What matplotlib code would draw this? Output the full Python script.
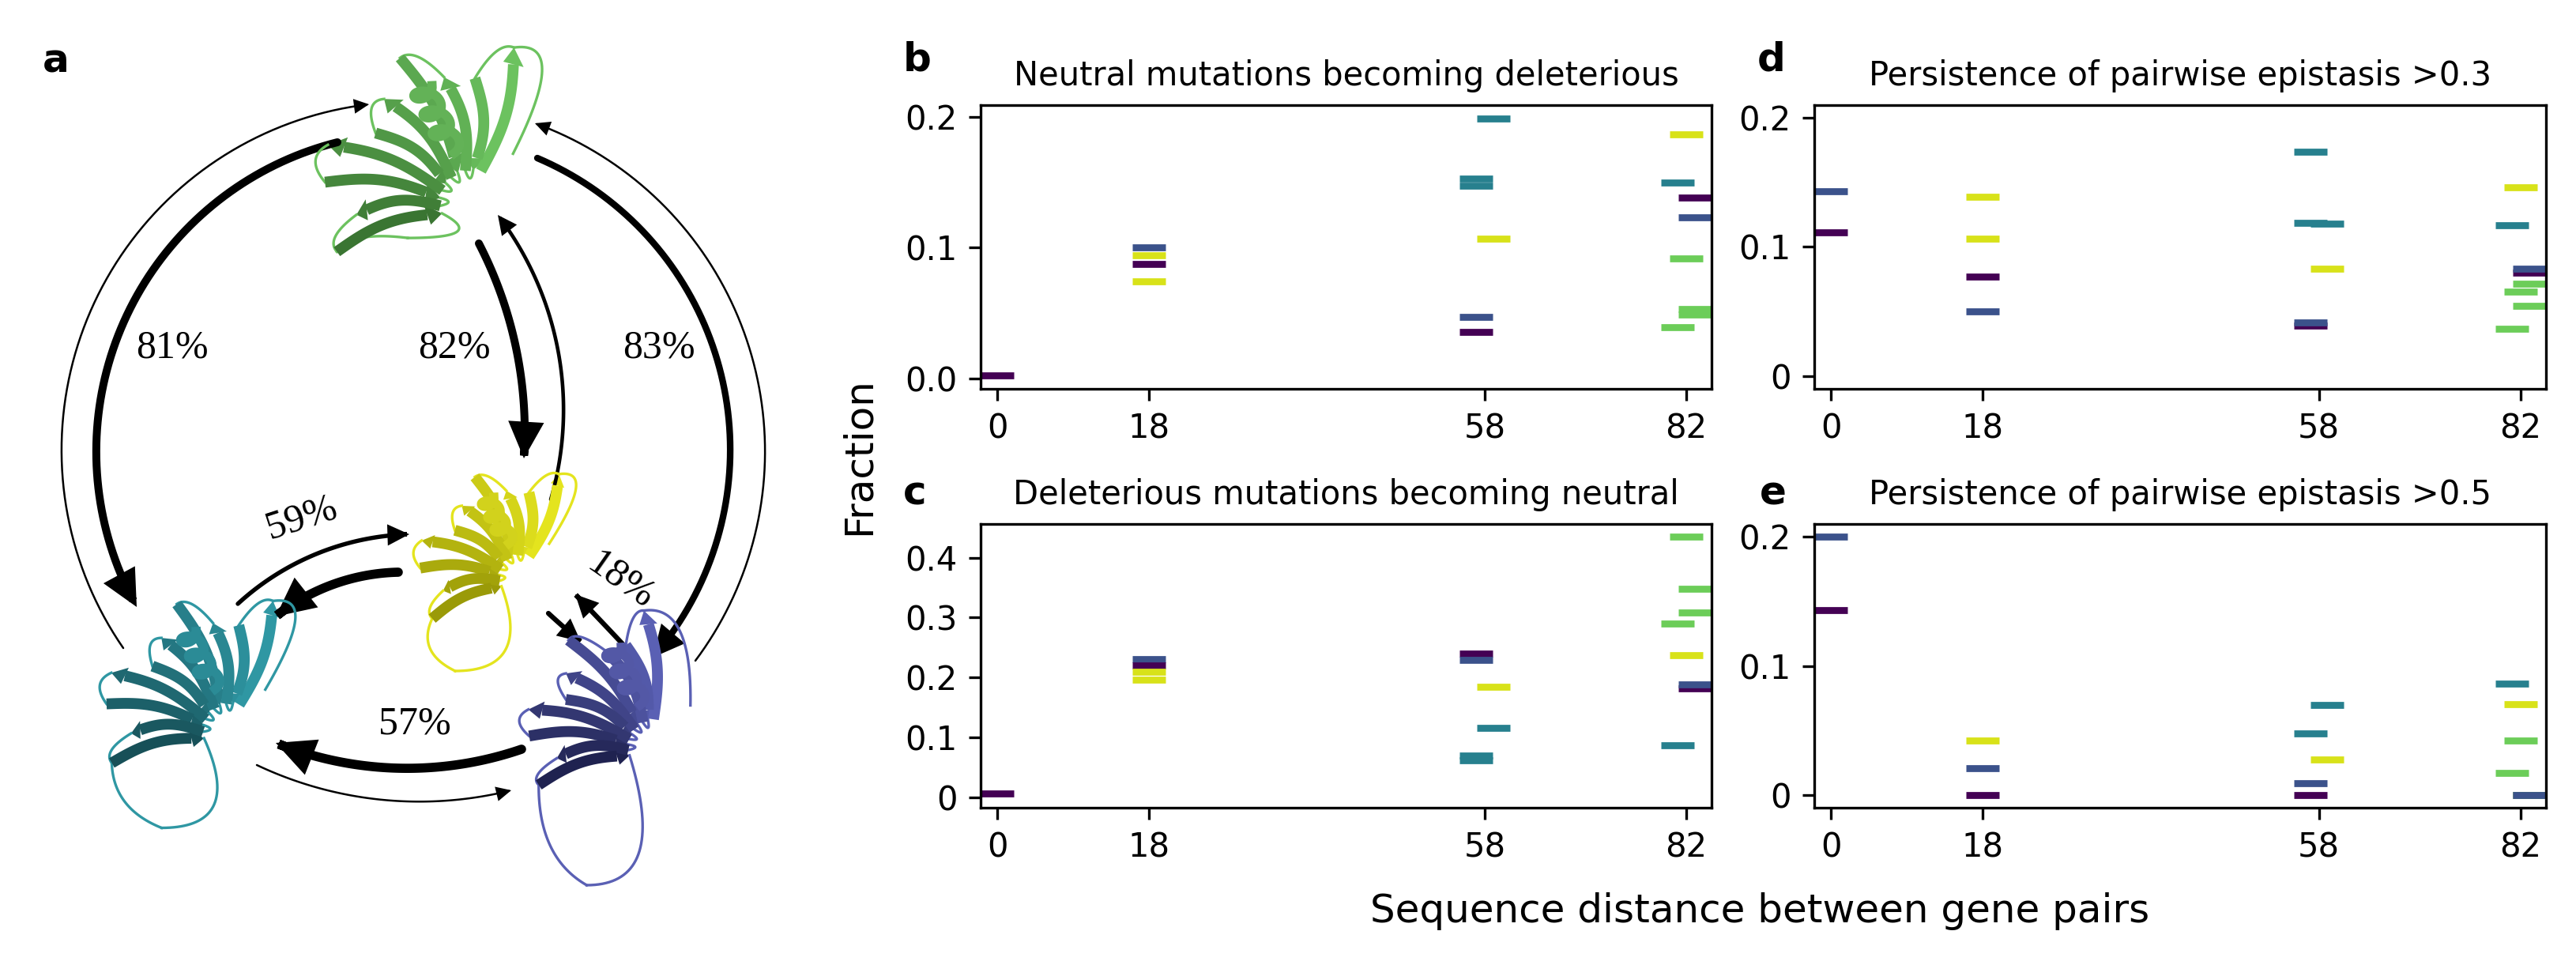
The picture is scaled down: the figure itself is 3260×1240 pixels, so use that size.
import numpy as np
import matplotlib
matplotlib.use("Agg")
import matplotlib.pyplot as plt
from matplotlib.colors import to_rgb
from matplotlib.patches import FancyArrowPatch
from matplotlib.path import Path

# ── Data ──────────────────────────────────────────────
distances = [0, 18, 58, 82]
palette = {
    "purple": "#440154",
    "navy": "#3b528b",
    "teal": "#27808e",
    "green": "#6ccd59",
    "yellow": "#d8e219",
}

# b: neutral mutations becoming deleterious
b_dist = [0, 18, 18, 18, 18, 58, 58, 58, 58, 58, 58, 82, 82, 82, 82, 82, 82, 82, 82]
b_shift = [0, 0, 0, 0, 0, -1, -1, -1, -1, 1, 1, -1, -1, 0, 0, 1, 1, 1, 1]
b_color = ["purple", "navy", "yellow", "purple", "yellow",
           "teal", "teal", "navy", "purple", "teal", "yellow",
           "teal", "green", "yellow", "green", "purple", "navy", "green", "green"]
b_frac = [0.002, 0.100, 0.094, 0.0875, 0.0745,
          0.1527, 0.1475, 0.0473, 0.0358, 0.1988, 0.1068,
          0.150, 0.0394, 0.1867, 0.092, 0.1382, 0.1233, 0.0533, 0.049]

# c: deleterious mutations becoming neutral
c_dist = [0, 18, 18, 18, 18, 58, 58, 58, 58, 58, 58, 82, 82, 82, 82, 82, 82, 82, 82]
c_shift = [0, 0, 0, 0, 0, -1, -1, -1, -1, 1, 1, -1, -1, 0, 0, 1, 1, 1, 1]
c_color = ["purple", "navy", "purple", "yellow", "yellow",
           "purple", "navy", "teal", "teal", "yellow", "teal",
           "green", "teal", "green", "yellow", "green", "green", "purple", "navy"]
c_frac = [0.0066, 0.231, 0.220, 0.209, 0.197,
          0.240, 0.2296, 0.0698, 0.062, 0.185, 0.116,
          0.290, 0.0874, 0.435, 0.2375, 0.348, 0.3086, 0.182, 0.1888]

# d: persistence of pairwise epistasis > 0.3
d_dist = [0, 0, 18, 18, 18, 18, 58, 58, 58, 58, 58, 58, 82, 82, 82, 82, 82, 82, 82, 82]
d_shift = [0, 0, 0, 0, 0, 0, -1, -1, -1, -1, 1, 1, -1, -1, 0, 0, 1, 1, 1, 1]
d_color = ["navy", "purple", "yellow", "yellow", "purple", "navy",
           "teal", "teal", "purple", "navy", "teal", "yellow",
           "teal", "green", "yellow", "green", "purple", "navy", "green", "green"]
d_frac = [0.1431, 0.1112, 0.1387, 0.1063, 0.0769, 0.0499,
          0.1736, 0.1186, 0.039, 0.0417, 0.118, 0.083,
          0.1168, 0.0364, 0.1462, 0.0652, 0.080, 0.0834, 0.0714, 0.0542]

# e: persistence of pairwise epistasis > 0.5
e_dist = [0, 0, 18, 18, 18, 58, 58, 58, 58, 58, 82, 82, 82, 82, 82, 82, 82]
e_shift = [0, 0, 0, 0, 0, -1, -1, -1, 1, 1, -1, -1, 0, 0, 1, 1, 1]
e_color = ["navy", "purple", "yellow", "navy", "purple",
           "teal", "navy", "purple", "teal", "yellow",
           "teal", "green", "yellow", "green", "purple", "green", "navy"]
e_frac = [0.200, 0.143, 0.0419, 0.0204, 0.0,
          0.0479, 0.0088, 0.0, 0.0695, 0.0272,
          0.0861, 0.0168, 0.0701, 0.0419, 0.0, 0.0, 0.0]

# a: transition percentages between the four proteins
pct_labels = ["81%", "82%", "83%", "59%", "18%", "57%"]

W, H, DPI = 3260, 1240, 300
plt.rcParams["font.family"] = "DejaVu Sans"


def draw_panel(ax, dist, shift, color, frac, title, yticks, yticklabels, ylim):
    for x, s, c, y in zip(dist, shift, color, frac):
        ax.plot(x + s, y, marker="_", ms=10, mew=2.1, color=palette[c], ls="none")
    ax.set_xlim(-2, 85)
    ax.set_ylim(*ylim)
    ax.set_xticks(distances)
    ax.set_yticks(yticks)
    ax.set_yticklabels(yticklabels)
    ax.tick_params(labelsize=10)
    ax.set_title(title, fontsize=10)


def arc_arrow(ax, start, end, bulge, lw, scale):
    """Arrow along the circle through start, bulge and end (pixel units)."""
    p0, pm, p1 = (np.array(p, float) for p in (start, bulge, end))
    a = 2 * (p0[0] * (pm[1] - p1[1]) + pm[0] * (p1[1] - p0[1]) + p1[0] * (p0[1] - pm[1]))
    if abs(a) < 1e-6:
        verts = np.array([p0, p1])
    else:
        s0, sm, s1 = (p0 ** 2).sum(), (pm ** 2).sum(), (p1 ** 2).sum()
        cx = (s0 * (pm[1] - p1[1]) + sm * (p1[1] - p0[1]) + s1 * (p0[1] - pm[1])) / a
        cy = (s0 * (p1[0] - pm[0]) + sm * (p0[0] - p1[0]) + s1 * (pm[0] - p0[0])) / a
        r = np.hypot(p0[0] - cx, p0[1] - cy)
        t0, tm, t1 = (np.arctan2(p[1] - cy, p[0] - cx) for p in (p0, pm, p1))
        d1 = (t1 - t0) % (2 * np.pi)
        dm = (tm - t0) % (2 * np.pi)
        if dm > d1:
            d1 -= 2 * np.pi
        t = t0 + np.linspace(0, d1, 80)
        verts = np.column_stack([cx + r * np.cos(t), cy + r * np.sin(t)])
    arr = FancyArrowPatch(path=Path(verts),
                          arrowstyle="-|>,head_length=0.45,head_width=0.22",
                          mutation_scale=scale, lw=lw, color="k", joinstyle="miter")
    ax.add_patch(arr)


def bez(p0, c, p1, n=40):
    t = np.linspace(0, 1, n)[:, None]
    return (1 - t) ** 2 * p0 + 2 * t * (1 - t) * c + t ** 2 * p1


def draw_protein(ax, focal, length, a0, a1, light, dark, tail):
    """Cartoon GFP-like barrel: a fan of strands joined by thin loops (pixel units)."""
    F = np.array(focal, float)
    lo, dk = np.array(to_rgb(light)), np.array(to_rgb(dark))
    n = 10
    strands, ends = [], []
    for k, a in enumerate(np.deg2rad(np.linspace(a0, a1, n))):
        d = np.array([np.cos(a), -np.sin(a)])
        perp = np.array([-d[1], d[0]])
        L = length * (0.86 + 0.14 * np.cos(1.9 * k + 0.4))
        s = np.linspace(0.2 * length, L, 40)
        bow = 0.06 * length * np.sin(np.pi * (s - s[0]) / (L - s[0]))
        pts = F + s[:, None] * d + bow[:, None] * perp
        col = lo + (dk - lo) * (k / (n - 1))
        strands.append((pts, perp, col, k))
        ends.append((pts[0], pts[-1], d))

    # loops first so strands sit on top
    for k in range(n - 1):
        i0, o0, d0 = ends[k]
        i1, o1, d1 = ends[k + 1]
        if k % 2 == 0:
            mid = (o0 + o1) / 2 + 0.14 * length * (d0 + d1) / 2
            ax.plot(*bez(o0, mid, o1).T, color=lo, lw=0.8)
        else:
            mid = (i0 + i1) / 2 - 0.1 * length * (d0 + d1) / 2
            ax.plot(*bez(i0, mid, i1).T, color=lo, lw=0.8)
    tp = F + length * np.array(tail)
    ax.plot(*bez(ends[-1][0], F + length * np.array([0.1, tail[1]]), tp).T, color=lo, lw=0.8)
    ax.plot(*bez(tp, F + length * np.array([tail[0] - 0.35, tail[1] * 0.8]),
                 ends[-1][1]).T, color=lo, lw=0.8)
    first_out = ends[0][1]
    ax.plot(*bez(first_out, first_out + length * np.array([0.35, -0.05]),
                 F + length * np.array([0.25, -0.3])).T, color=lo, lw=0.8)

    for pts, perp, col, k in strands:
        w = 0.065 * length
        if k % 2 == 0:
            ax.plot(*pts[:-5].T, color=col, lw=3.3, solid_capstyle="butt")
            tip, base = pts[-1], pts[-6]
        else:
            ax.plot(*pts[5:].T, color=col, lw=3.3, solid_capstyle="butt")
            tip, base = pts[0], pts[5]
        ax.fill(*np.array([base + w * perp, tip, base - w * perp]).T, color=col, lw=0)

    # helix over the barrel
    k = np.linspace(0, 1, 240)
    c0 = F + length * np.array([-0.32, -0.72])
    c1 = F + length * np.array([-0.14, -0.35])
    axis = c0 + (c1 - c0) * k[:, None]
    ax.plot(axis[:, 0] + 0.07 * length * np.cos(20 * k),
            axis[:, 1] + 0.05 * length * np.sin(20 * k),
            color=lo * 0.92, lw=2.8)


fig = plt.figure(figsize=(W / DPI, H / DPI), dpi=DPI)

# ── Panel a: diagram ───────────────────────────────────
axa = fig.add_axes([0, 0, 1050 / W, 1])
axa.set_xlim(0, 1050)
axa.set_ylim(1240, 0)
axa.set_aspect("equal")
axa.axis("off")

draw_protein(axa, (598, 256), 205, 75, 200, "#6cc25f", "#3a7532", (-0.4, 0.22))
draw_protein(axa, (660, 730), 140, 70, 205, "#e4e41e", "#9a9a08", (-0.6, 0.85))
draw_protein(axa, (292, 925), 175, 72, 195, "#2f97a3", "#175058", (-0.5, 0.7))
draw_protein(axa, (830, 945), 175, 95, 198, "#5a60b4", "#1f2250", (-0.5, 1.0))

arc_arrow(axa, (427, 180), (173, 768), (122, 560), 2.4, 16)
arc_arrow(axa, (156, 820), (467, 132), (78, 560), 0.6, 8)
arc_arrow(axa, (606, 308), (663, 580), (653, 440), 2.4, 16)
arc_arrow(axa, (697, 632), (630, 272), (707, 448), 1.1, 9)
arc_arrow(axa, (680, 200), (826, 832), (924, 560), 2.0, 14)
arc_arrow(axa, (880, 836), (677, 156), (968, 560), 0.6, 8)
arc_arrow(axa, (301, 764), (518, 676), (393, 704), 1.3, 10)
arc_arrow(axa, (504, 724), (349, 780), (420, 740), 2.8, 16)
arc_arrow(axa, (694, 776), (735, 812), (714, 794), 1.5, 10)
arc_arrow(axa, (789, 816), (728, 752), (755, 780), 1.5, 10)
arc_arrow(axa, (660, 948), (349, 940), (504, 972), 2.8, 16)
arc_arrow(axa, (325, 968), (647, 1000), (484, 1012), 0.6, 8)

label_pos = [(218, 440), (575, 440), (834, 440), (382, 656), (785, 735), (525, 916)]
label_rot = [0, 0, 0, 18, -35, 0]
for txt, (lx, ly), r in zip(pct_labels, label_pos, label_rot):
    axa.text(lx, ly, txt, fontsize=12, family="Liberation Serif",
             ha="center", va="center", rotation=r)

# ── Panels b-e ─────────────────────────────────────────
axb = fig.add_axes([1241 / W, 1 - 492 / H, 925 / W, 359 / H])
axc = fig.add_axes([1241 / W, 1 - 1022 / H, 925 / W, 359 / H])
axd = fig.add_axes([2296 / W, 1 - 492 / H, 926 / W, 359 / H])
axe = fig.add_axes([2296 / W, 1 - 1022 / H, 926 / W, 359 / H])

draw_panel(axb, b_dist, b_shift, b_color, b_frac,
           "Neutral mutations becoming deleterious",
           [0, 0.1, 0.2], ["0.0", "0.1", "0.2"], (-0.008, 0.209))
draw_panel(axc, c_dist, c_shift, c_color, c_frac,
           "Deleterious mutations becoming neutral",
           [0, 0.1, 0.2, 0.3, 0.4], ["0", "0.1", "0.2", "0.3", "0.4"], (-0.017, 0.456))
draw_panel(axd, d_dist, d_shift, d_color, d_frac,
           "Persistence of pairwise epistasis >0.3",
           [0, 0.1, 0.2], ["0", "0.1", "0.2"], (-0.01, 0.21))
draw_panel(axe, e_dist, e_shift, e_color, e_frac,
           "Persistence of pairwise epistasis >0.5",
           [0, 0.1, 0.2], ["0", "0.1", "0.2"], (-0.01, 0.21))

# panel letters and shared labels
for letter, lx, ly in [("a", 54, 91), ("b", 1143, 90), ("d", 2224, 90),
                       ("c", 1143, 638), ("e", 2227, 638)]:
    fig.text(lx / W, 1 - ly / H, letter, fontsize=12, fontweight="bold",
             ha="left", va="baseline")

fig.text(1087 / W, 1 - 577 / H, "Fraction", rotation=90, fontsize=12,
         ha="center", va="center")
fig.text(2227 / W, 1 - 1153 / H, "Sequence distance between gene pairs",
         fontsize=12, ha="center", va="center")

fig.savefig("out.png", dpi=DPI)
